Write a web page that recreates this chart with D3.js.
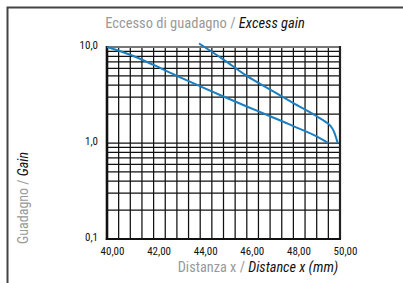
<!DOCTYPE html>
<html>
<head>
<meta charset="utf-8">
<script src="https://cdn.jsdelivr.net/npm/d3@7"></script>
<style>
  body { margin: 0; background: #fff; }
  svg text { font-family: "Roboto Condensed", "DejaVu Sans Condensed", sans-serif; }
</style>
</head>
<body>
<div id="chart"></div>
<script>
let w = 403,
    h = 283;

let margin = {
  top: 47,
  bottom: 44,
  left: 107,
  right: 63
};

let width = w - margin.left - margin.right;
let height = h - margin.top - margin.bottom;

// x ticks (mm) and y ticks (gain, log scale)
let xTicks = [40, 42, 44, 46, 48, 50];
let xTickLabels = ["40,00", "42,00", "44,00", "46,00", "48,00", "50,00"];
let yTicks = [0.1, 1, 10];
let yTickLabels = ["0,1", "1,0", "10,0"];

// curve: lower line
let curveOneX = [40, 41, 42, 43, 44, 45, 46, 47, 48, 49, 49.5];
let curveOneY = [10, 8.3, 6.5, 5.0, 3.9, 3.05, 2.4, 1.9, 1.5, 1.17, 1.0];

// upper line, with the bend at the end
let curveTwoX = [43.95, 45, 46, 47, 48, 49, 49.4, 49.6, 49.75, 49.85, 49.9];
let curveTwoY = [10.9, 7.4, 5.0, 3.6, 2.6, 1.9, 1.65, 1.5, 1.3, 1.1, 1.0];

let svg = d3.select("#chart")
            .append("svg")
            .attr("width", w)
            .attr("height", h);

// outer frame (only top and left visible)
svg.append("path")
   .attr("d", "M7.5," + h + "V7.5H" + w)
   .attr("fill", "none")
   .attr("stroke", "#444")
   .attr("stroke-width", 2);

let g = svg.append("g")
           .attr("transform", "translate(" + margin.left + "," + margin.top + ")");

let x = d3.scaleLinear()
          .domain([40, 50])
          .range([0, width]);

let y = d3.scaleLog()
          .domain([0.1, 10])
          .range([height, 0]);

// vertical grid every 0.5 mm
let xGrid = d3.range(40.5, 50, 0.5);
g.selectAll(".vgrid")
 .data(xGrid)
 .enter()
 .append("line")
 .attr("class", "vgrid")
 .attr("x1", d => x(d))
 .attr("x2", d => x(d))
 .attr("y1", 0)
 .attr("y2", height)
 .attr("stroke", "#111")
 .attr("stroke-width", 1.25);

// horizontal log grid
let yGrid = y.ticks().filter(d => d > 0.1 && d < 10);
g.selectAll(".hgrid")
 .data(yGrid)
 .enter()
 .append("line")
 .attr("class", "hgrid")
 .attr("x1", 0)
 .attr("x2", width)
 .attr("y1", d => y(d))
 .attr("y2", d => y(d))
 .attr("stroke", "#111")
 .attr("stroke-width", 1.25);

// plot frame
g.append("line").attr("x1", 0).attr("x2", width).attr("y1", 0).attr("y2", 0)
 .attr("stroke", "#777").attr("stroke-width", 2);
g.append("line").attr("x1", width).attr("x2", width).attr("y1", -1).attr("y2", height)
 .attr("stroke", "#222").attr("stroke-width", 2.2);
g.append("line").attr("x1", -1.2).attr("x2", width + 1).attr("y1", height).attr("y2", height)
 .attr("stroke", "#111").attr("stroke-width", 2.2);
g.append("line").attr("x1", 0).attr("x2", 0).attr("y1", -1).attr("y2", height + 1)
 .attr("stroke", "#111").attr("stroke-width", 2.6);

// axes (labels only)
let xAxis = d3.axisBottom(x)
              .tickValues(xTicks)
              .tickSize(0)
              .tickFormat((d, i) => xTickLabels[i]);

let yAxis = d3.axisLeft(y)
              .tickValues(yTicks)
              .tickSize(0)
              .tickFormat((d, i) => yTickLabels[i]);

let gx = g.append("g")
          .attr("transform", "translate(0," + height + ")")
          .call(xAxis);
gx.select(".domain").remove();
gx.selectAll("text")
  .attr("dx", 5)
  .attr("dy", 13)
  .style("font-size", "11px")
  .style("font-family", "'Roboto Condensed', sans-serif")
  .attr("fill", "#111");

let gy = g.append("g").call(yAxis);
gy.select(".domain").remove();
gy.selectAll("text")
  .attr("dx", -6)
  .attr("dy", "0.1em")
  .style("font-size", "11px")
  .style("font-family", "'Roboto Condensed', sans-serif")
  .attr("fill", "#111");

// curves
let line = d3.line()
             .x(d => x(d[0]))
             .y(d => y(d[1]))
             .curve(d3.curveMonotoneX);

let curves = [
  d3.zip(curveOneX, curveOneY),
  d3.zip(curveTwoX, curveTwoY)
];

g.selectAll(".curve")
 .data(curves)
 .enter()
 .append("path")
 .attr("class", "curve")
 .attr("d", line)
 .attr("fill", "none")
 .attr("stroke", "#1b7fc0")
 .attr("stroke-width", 2);

// titles
let title = svg.append("text")
               .attr("x", 205)
               .attr("y", 28)
               .attr("text-anchor", "middle")
               .style("font-size", "14.5px");
title.append("tspan").attr("fill", "#999").text("Eccesso di guadagno / ");
title.append("tspan").attr("fill", "#111").style("font-style", "italic").text("Excess gain");

let xTitle = svg.append("text")
                .attr("x", 258)
                .attr("y", 272)
                .attr("text-anchor", "middle")
                .style("font-size", "14.3px");
xTitle.append("tspan").attr("fill", "#999").text("Distanza x / ");
xTitle.append("tspan").attr("fill", "#111").style("font-style", "italic").text("Distance x (mm)");

let yTitle = svg.append("text")
                .attr("transform", "translate(28,198) rotate(-90)")
                .attr("text-anchor", "middle")
                .style("font-size", "14px");
yTitle.append("tspan").attr("fill", "#999").text("Guadagno / ");
yTitle.append("tspan").attr("fill", "#111").style("font-style", "italic").text("Gain");
</script>
</body>
</html>
